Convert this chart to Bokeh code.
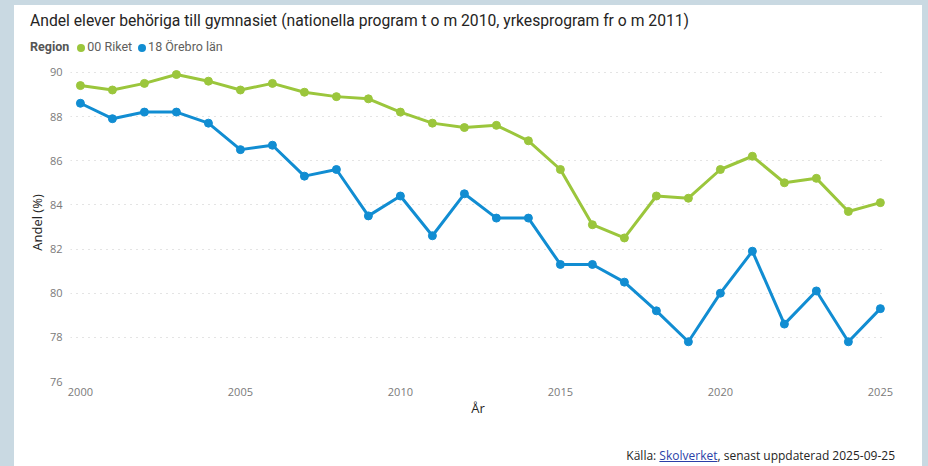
from bokeh.plotting import figure
from bokeh.models import Range1d, FixedTicker, Div
from bokeh.layouts import column
from bokeh.embed import file_html
from bokeh.resources import INLINE

# ---- data ----
years = list(range(2000, 2026))
riket = [89.4, 89.2, 89.5, 89.9, 89.6, 89.2, 89.5, 89.1, 88.9, 88.8,
         88.2, 87.7, 87.5, 87.6, 86.9, 85.6, 83.1, 82.5, 84.4, 84.3,
         85.6, 86.2, 85.0, 85.2, 83.7, 84.1]
orebro = [88.6, 87.9, 88.2, 88.2, 87.7, 86.5, 86.7, 85.3, 85.6, 83.5,
          84.4, 82.6, 84.5, 83.4, 83.4, 81.3, 81.3, 80.5, 79.2, 77.8,
          80.0, 81.9, 78.6, 80.1, 77.8, 79.3]
series_names = ["00 Riket", "18 Örebro län"]
x_ticks = [2000, 2005, 2010, 2015, 2020, 2025]
y_ticks = [76, 78, 80, 82, 84, 86, 88, 90]
title_text = "Andel elever behöriga till gymnasiet (nationella program t o m 2010, yrkesprogram fr o m 2011)"
legend_title = "Region"
x_label = "År"
y_label = "Andel (%)"
source_prefix = "Källa:"
source_link = "Skolverket"
source_suffix = ", senast uppdaterad 2025-09-25"

# ---- styles ----
GREEN = "#9BC63C"
BLUE = "#118DD2"
PAGE_BG = "#C9D9E2"
INNER_W = 908          # white panel width (page x 14..922)
HEAD_H, FIG_H, FOOT_H = 53, 388, 20
PAD_L, PAD_R, PAD_T = 14, 6, 5

p = figure(width=INNER_W, height=FIG_H, output_backend="svg", toolbar_location=None,
           x_range=Range1d(1999.69, 2025.16), y_range=Range1d(76, 90.4),
           min_border_left=56, min_border_right=37, min_border_top=5,
           min_border_bottom=65, margin=(0, PAD_R, 0, PAD_L),
           styles={"background-color": "white"})
p.outline_line_color = None
p.background_fill_color = "white"
p.border_fill_color = "white"

for vals, col in [(riket, GREEN), (orebro, BLUE)]:
    p.line(years, vals, line_color=col, line_width=3)
    p.scatter(years, vals, size=8, fill_color=col, line_color=col)

p.xgrid.grid_line_color = None
p.ygrid.grid_line_color = "#C8C8C8"
p.ygrid.grid_line_dash = "1 5"
p.ygrid.grid_line_width = 1
p.ygrid.ticker = FixedTicker(ticks=y_ticks)

p.xaxis.ticker = FixedTicker(ticks=x_ticks)
p.yaxis.ticker = FixedTicker(ticks=y_ticks)
for ax in (p.xaxis[0], p.yaxis[0]):
    ax.axis_line_color = None
    ax.major_tick_line_color = None
    ax.minor_tick_line_color = None
    ax.major_tick_out = 0
    ax.major_tick_in = 0
    ax.minor_tick_out = 0
    ax.major_label_text_font = "Open Sans"
    ax.major_label_text_font_size = "11px"
    ax.major_label_text_color = "#7A7A7A"
    ax.axis_label_text_font = "Open Sans"
    ax.axis_label_text_font_size = "13px"
    ax.axis_label_text_font_style = "normal"
    ax.axis_label_text_color = "#252423"
p.xaxis.axis_label = x_label
p.yaxis.axis_label = y_label
p.xaxis.major_label_standoff = 6
p.xaxis.axis_label_standoff = 0
p.yaxis.major_label_standoff = 8
p.yaxis.axis_label_standoff = 1


def dot(color):
    return (f'<span style="display:inline-block;width:8px;height:8px;border-radius:50%;'
            f'background:{color};margin:0 2px 0 0;vertical-align:-0.5px"></span>')


header_html = (
    f'<div style="position:relative;width:{INNER_W}px;height:{HEAD_H}px;background:white;">'
    f'<div style="position:absolute;left:16px;top:6px;line-height:20px;white-space:nowrap;'
    f'font-family:Roboto;font-size:15.7px;color:#252423;">{title_text}</div>'
    f'<div style="position:absolute;left:16px;top:34px;line-height:16px;white-space:nowrap;'
    f'font-family:Roboto;font-size:12.5px;color:#605E5C;">'
    f'<span style="font-weight:bold;color:#555555;margin-right:8px">{legend_title}</span>'
    f'{dot(GREEN)}<span style="margin-right:6px">{series_names[0]}</span>'
    f'{dot(BLUE)}<span>{series_names[1]}</span></div></div>'
)
header = Div(text=header_html, width=INNER_W, height=HEAD_H,
             margin=(PAD_T, PAD_R, 0, PAD_L), styles={"background-color": "white"})

footer_html = (
    f'<div style="position:relative;width:{INNER_W}px;height:{FOOT_H}px;background:white;">'
    f'<div style="position:absolute;right:27px;top:0px;line-height:20px;white-space:nowrap;'
    f'font-family:\'Open Sans\';font-size:12px;color:#252423;">'
    f'{source_prefix} <span style="color:#2B3FA8;text-decoration:underline">{source_link}</span>'
    f'{source_suffix}</div></div>'
)
footer = Div(text=footer_html, width=INNER_W, height=FOOT_H,
             margin=(0, PAD_R, 0, PAD_L), styles={"background-color": "white"})

page = column(header, p, footer, spacing=0, styles={"background-color": PAGE_BG})

open("out.html", "w").write(file_html(page, INLINE))
